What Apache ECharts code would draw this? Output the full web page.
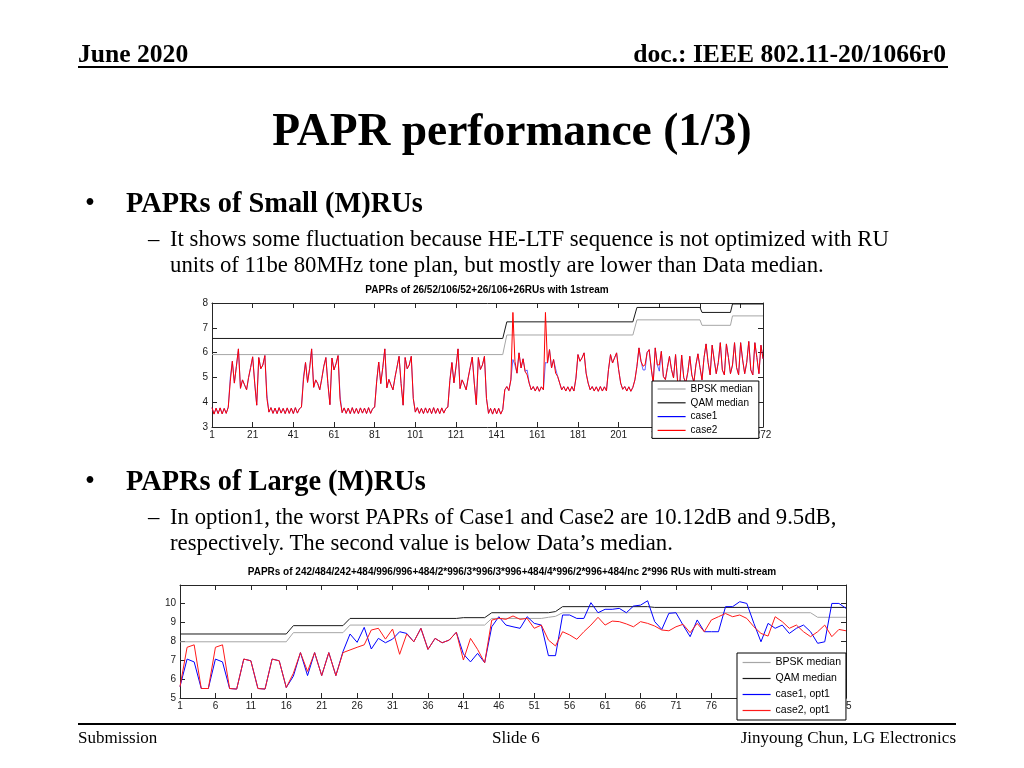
<!DOCTYPE html>
<html>
<head>
<meta charset="utf-8">
<script src="https://cdn.jsdelivr.net/npm/echarts@6.0.0/dist/echarts.min.js"></script>
<style>
  html, body { margin:0; padding:0; background:#fff; }
  body { width:1024px; height:768px; position:relative; overflow:hidden; font-family:"Liberation Serif", "Times New Roman", serif; color:#000; }
  #chart { position:absolute; left:0; top:0; width:1024px; height:768px; }
  .t { position:absolute; white-space:nowrap; line-height:1; }
  .rule { position:absolute; background:#000; }
</style>
</head>
<body>
<div id="chart"></div>

<div class="t" style="left:78px; top:40.6px; font-size:25.6px; font-weight:bold;">June 2020</div>
<div class="t" style="right:78px; top:40.6px; font-size:25.6px; font-weight:bold;">doc.: IEEE 802.11-20/1066r0</div>
<div class="rule" style="left:78px; top:66px; width:870px; height:2px;"></div>

<div class="t" style="left:0; width:1024px; text-align:center; top:107px; font-size:45.5px; font-weight:bold;">PAPR performance (1/3)</div>

<div class="t" style="left:85px; top:189px; font-size:28.4px;">•</div>
<div class="t" style="left:126px; top:189px; font-size:28.4px; font-weight:bold;">PAPRs of Small (M)RUs</div>
<div class="t" style="left:148px; top:228px; font-size:22.75px;">–</div>
<div class="t" style="left:170px; top:228px; font-size:22.75px;">It shows some fluctuation because HE-LTF sequence is not optimized with RU</div>
<div class="t" style="left:170px; top:254px; font-size:22.75px;">units of 11be 80MHz tone plan, but mostly are lower than Data median.</div>

<div class="t" style="left:85px; top:467px; font-size:28.4px;">•</div>
<div class="t" style="left:126px; top:467px; font-size:28.4px; font-weight:bold;">PAPRs of Large (M)RUs</div>
<div class="t" style="left:148px; top:506px; font-size:22.75px;">–</div>
<div class="t" style="left:170px; top:506px; font-size:22.75px;">In option1, the worst PAPRs of Case1 and Case2 are 10.12dB and 9.5dB,</div>
<div class="t" style="left:170px; top:532px; font-size:22.75px;">respectively. The second value is below Data’s median.</div>

<div class="rule" style="left:78px; top:723px; width:878px; height:1.5px;"></div>
<div class="t" style="left:78px; top:728.8px; font-size:17px;">Submission</div>
<div class="t" style="left:492px; top:728.8px; font-size:17px;">Slide 6</div>
<div class="t" style="right:68px; top:728.8px; font-size:17px;">Jinyoung Chun, LG Electronics</div>

<script>
// ---------------- DATA ----------------
// Top chart: PAPRs of 26/52/106/52+26/106+26RUs with 1stream (RU index 1..272)
const topTitle = 'PAPRs of 26/52/106/52+26/106+26RUs with 1stream';
const topXTicks = [1,21,41,61,81,101,121,141,161,181,201,221,241,261,272];
const topYTicks = [3,4,5,6,7,8];

const topCase2 = [
  3.78,3.52,3.76,3.54,3.77,3.53,3.75,3.55,3.8,
  4.85,5.65,4.77,5.45,6.15,4.56,4.9,4.7,4.5,5.0,5.4,5.83,4.77,3.88,5.8,5.35,5.5,5.88,4.15,
  3.6,3.78,3.55,3.76,3.54,3.78,3.56,3.75,3.54,3.77,3.55,3.76,3.54,3.78,3.56,3.74,3.8,
  4.9,5.6,4.8,5.35,6.15,4.6,4.9,4.75,4.5,4.95,5.45,5.8,4.75,3.9,5.78,5.3,5.55,5.88,4.1,
  3.58,3.77,3.55,3.76,3.54,3.78,3.55,3.75,3.54,3.77,3.56,3.76,3.54,3.78,3.55,3.74,3.8,
  4.85,5.62,4.75,5.4,6.15,4.58,4.92,4.7,4.5,5.0,5.42,5.85,4.75,3.88,5.8,5.35,5.5,5.85,4.15,
  3.6,3.78,3.55,3.75,3.54,3.77,3.56,3.76,3.54,3.78,3.55,3.75,3.54,3.77,3.56,3.74,3.8,
  4.88,5.6,4.78,5.42,6.15,4.55,4.9,4.72,4.5,4.98,5.4,5.82,4.77,3.9,5.8,5.32,5.5,5.85,4.15,
  3.55,3.75,3.52,3.76,3.53,3.75,3.52,3.7,
  4.5,4.63,4.47,4.9,7.62,5.65,5.17,5.99,5.38,5.75,5.24,5.1,4.77,4.5,
  4.63,4.45,4.63,4.44,4.62,4.5,
  7.62,5.58,6.12,5.38,5.72,5.17,5.04,4.77,4.5,
  4.63,4.45,4.62,4.44,4.63,4.45,
  4.97,5.92,5.65,5.79,5.99,5.17,4.77,4.5,
  4.63,4.45,4.62,4.44,4.63,4.45,4.62,4.46,
  5.31,5.92,5.58,5.79,5.99,5.31,4.77,4.52,
  4.63,4.45,4.62,4.44,4.6,
  4.9,5.45,6.19,5.65,5.45,5.51,6.0,6.12,5.38,4.77,6.19,5.51,5.5,6.05,5.04,4.91,
  5.4,5.85,5.31,4.98,5.92,4.84,4.64,5.9,5.0,4.77,5.2,5.85,5.1,4.8,5.5,5.95,
  5.4,4.9,5.8,6.35,5.6,5.1,6.3,5.7,5.15,5.6,6.4,5.3,5.1,6.35,5.8,5.15,
  5.5,6.4,5.4,5.1,6.4,5.7,5.15,5.6,6.45,5.3,5.1,6.4,5.8,5.15,6.3,5.75
];

const topCase1 = [
  3.78,3.52,3.76,3.54,3.77,3.53,3.75,3.55,3.8,
  5.0,5.65,4.77,5.45,6.15,4.56,4.9,4.7,4.5,5.0,5.4,5.83,4.77,3.88,5.8,5.35,5.5,5.88,4.3,
  3.6,3.78,3.55,3.76,3.54,3.78,3.56,3.75,3.54,3.77,3.55,3.76,3.54,3.78,3.56,3.74,3.8,
  5.05,5.6,4.8,5.35,6.15,4.6,4.9,4.75,4.5,4.95,5.45,5.8,4.75,3.9,5.78,5.3,5.55,5.88,4.25,
  3.58,3.77,3.55,3.76,3.54,3.78,3.55,3.75,3.54,3.77,3.56,3.76,3.54,3.78,3.55,3.74,3.8,
  4.85,5.62,4.75,5.4,6.15,4.58,4.92,4.7,4.5,5.0,5.42,5.85,4.75,3.88,5.8,5.35,5.5,5.85,4.15,
  3.6,3.78,3.55,3.75,3.54,3.77,3.56,3.76,3.54,3.78,3.55,3.75,3.54,3.77,3.56,3.74,3.8,
  4.88,5.6,4.78,5.42,6.15,4.55,4.9,4.72,4.5,4.98,5.4,5.82,4.77,3.9,5.8,5.32,5.5,5.85,4.15,
  3.55,3.75,3.52,3.76,3.53,3.75,3.52,3.7,
  4.5,4.63,4.47,4.9,5.72,5.5,5.17,5.99,5.38,5.75,5.24,5.3,4.77,4.5,
  4.63,4.45,4.63,4.44,4.62,4.5,
  5.6,5.58,6.12,5.38,5.72,5.35,5.04,4.77,4.5,
  4.63,4.45,4.62,4.44,4.63,4.45,
  4.97,5.92,5.65,5.79,5.99,5.17,4.77,4.5,
  4.63,4.45,4.62,4.44,4.63,4.45,4.62,4.46,
  5.31,5.92,5.58,5.79,5.99,5.31,4.77,4.52,
  4.63,4.45,4.62,4.44,4.6,
  4.9,5.45,6.19,5.65,5.3,5.3,6.0,6.12,5.38,4.77,6.19,5.51,5.25,6.05,5.04,4.91,
  5.4,5.85,5.31,4.98,5.92,4.84,4.64,5.9,5.0,4.77,5.2,5.85,5.1,4.8,5.5,5.95,
  5.4,4.9,5.8,6.35,5.6,5.1,6.3,5.7,5.15,5.6,6.4,5.3,5.1,6.35,5.8,5.15,
  5.5,6.4,5.4,5.1,6.4,5.7,5.15,5.6,6.45,5.3,5.1,6.4,5.8,5.15,6.3,5.75
];

// step lines: [RU index, value]
const topBpsk = [[1,5.92],[144,5.92],[146,6.71],[208,6.71],[210,7.32],[241,7.32],[242,7.1],[256,7.1],[257,7.48],[272,7.48]];
const topQam  = [[1,6.57],[144,6.57],[146,7.24],[208,7.24],[210,7.82],[241,7.82],[242,7.62],[256,7.62],[257,7.96],[272,7.96]];
const topLegend = ['BPSK median','QAM median','case1','case2'];

// Bottom chart: large (M)RUs with multi-stream (index 1..95)
const botTitle = 'PAPRs of 242/484/242+484/996/996+484/2*996/3*996/3*996+484/4*996/2*996+484/nc 2*996 RUs with multi-stream';
const botXTicks = [1,6,11,16,21,26,31,36,41,46,51,56,61,66,71,76,81,86,91,95];
const botYTicks = [5,6,7,8,9,10];

const botCase1 = [
  5.6,7.05,6.9,5.5,5.5,7.05,6.9,5.5,5.47,7.05,
  6.96,5.5,5.47,7.05,6.96,5.55,6.15,7.39,6.18,7.39,
  6.18,7.39,6.18,7.44,8.37,7.93,8.72,7.58,8.14,7.91,
  8.1,8.49,8.4,7.96,8.67,7.56,8.14,7.91,8.05,8.46,
  7.32,6.9,7.35,6.86,8.75,9.28,8.84,8.75,8.67,9.28,
  8.93,8.84,7.23,7.23,9.37,9.37,9.19,9.19,10.02,9.49,
  9.67,9.67,9.72,9.49,9.84,9.89,10.12,9.02,8.61,9.46,
  9.49,8.84,8.23,9.11,8.49,8.49,8.49,9.81,9.81,10.07,
  9.98,8.93,7.96,8.93,8.67,8.84,8.4,8.67,8.84,8.49,
  7.88,7.96,9.98,9.98,9.72
];
const botCase2 = [
  5.6,7.67,7.8,5.5,5.5,7.67,7.8,5.5,5.47,7.05,
  6.96,5.5,5.47,7.05,6.96,5.55,6.3,7.39,6.4,7.39,
  6.18,7.39,6.18,7.39,7.53,7.67,7.8,8.58,8.67,8.1,
  8.63,7.3,8.37,7.96,8.67,7.56,8.14,7.91,8.05,8.46,
  7.0,8.14,7.56,6.86,9.1,9.2,9.14,9.32,9.14,9.19,
  8.67,8.84,8.05,7.74,8.49,8.32,8.09,8.49,8.84,9.25,
  8.84,9.05,9.02,8.9,8.75,9.02,8.93,8.79,8.58,8.54,
  8.75,8.88,8.44,8.93,8.49,9.11,9.28,9.45,9.28,9.37,
  9.19,8.75,8.4,8.26,9.28,9.02,8.67,8.84,8.49,8.23,
  8.49,8.84,8.23,8.61,8.54
];
const botBpsk = [[1,7.96],[16,7.96],[17,8.44],[24,8.44],[25,8.84],[44,8.84],[45,9.19],[52,9.19],[53,9.25],[54,9.3],[55,9.49],[90,9.49],[91,9.25],[95,9.25]];
const botQam  = [[1,8.37],[16,8.37],[17,8.81],[24,8.81],[25,9.19],[40,9.19],[41,9.23],[44,9.23],[45,9.49],[53,9.49],[54,9.55],[55,9.81],[67,9.81],[68,9.77],[95,9.77]];
const botLegend = ['BPSK median','QAM median','case1, opt1','case2, opt1'];

// ---------------- CHART ----------------
const AX = '#262626';
const FONT = 'Liberation Sans';
const toXY = arr => arr.map((v, k) => [k + 1, v]);

function xAxis(grid, pos, min, max, ticks, showLabel) {
  return {
    type: 'value', gridIndex: grid, position: pos, min: min, max: max,
    axisLine: { show: true, onZero: false, lineStyle: { color: AX, width: 1 } },
    axisTick: { show: true, inside: true, length: 5, customValues: ticks, lineStyle: { color: AX, width: 1 } },
    axisLabel: { show: showLabel, customValues: ticks, margin: 3, fontSize: 10, color: '#1a1a1a', fontFamily: FONT },
    splitLine: { show: false }
  };
}
function yAxis(grid, pos, min, max, ticks, showLabel) {
  return {
    type: 'value', gridIndex: grid, position: pos, min: min, max: max,
    axisLine: { show: true, onZero: false, lineStyle: { color: AX, width: 1 } },
    axisTick: { show: true, inside: true, length: 5, customValues: ticks, lineStyle: { color: AX, width: 1 } },
    axisLabel: { show: showLabel, customValues: ticks, margin: 4, fontSize: 10, color: '#1a1a1a', fontFamily: FONT },
    splitLine: { show: false }
  };
}
function line(name, data, xi, yi, color, z, w) {
  return {
    type: 'line', name: name, data: data, xAxisIndex: xi, yAxisIndex: yi,
    symbol: 'none', showSymbol: false, z: z,
    lineStyle: { color: color, width: w }, itemStyle: { color: color },
    emphasis: { disabled: true }
  };
}
function legendBox(names, left, top, gap, pad, fs) {
  return {
    data: names, orient: 'vertical', left: left, top: top,
    itemWidth: 28, itemHeight: 10, itemGap: gap, padding: pad,
    backgroundColor: '#fff', borderColor: '#000', borderWidth: 1, borderRadius: 0,
    selectedMode: false, z: 10,
    itemStyle: { opacity: 0 },
    lineStyle: { width: 1.2 },
    textStyle: { fontSize: fs, color: '#000', fontFamily: FONT }
  };
}

const chart = echarts.init(document.getElementById('chart'), null, { renderer: 'canvas' });
chart.setOption({
  animation: false,
  backgroundColor: 'transparent',
  grid: [
    { left: 212, top: 303, width: 551, height: 124 },
    { left: 180, top: 585, width: 666, height: 113 }
  ],
  xAxis: [
    xAxis(0, 'bottom', 1, 272, topXTicks, true),
    xAxis(0, 'top', 1, 272, topXTicks, false),
    xAxis(1, 'bottom', 1, 95, botXTicks, true),
    xAxis(1, 'top', 1, 95, botXTicks, false)
  ],
  yAxis: [
    yAxis(0, 'left', 3, 8, topYTicks, true),
    yAxis(0, 'right', 3, 8, topYTicks, false),
    yAxis(1, 'left', 5, 10.95, botYTicks, true),
    yAxis(1, 'right', 5, 10.95, botYTicks, false)
  ],
  legend: [
    legendBox(topLegend, 652, 381, 3.8, [3, 6, 3, 5], 10),
    legendBox(botLegend, 737, 653, 5, [4, 5, 4, 5], 10.5)
  ],
  graphic: [
    { type: 'text', x: 487, y: 290, z: 10,
      style: { text: topTitle, font: 'bold 10px "Liberation Sans"', fill: '#000', align: 'center', verticalAlign: 'middle' } },
    { type: 'text', x: 512, y: 572.5, z: 10,
      style: { text: botTitle, font: 'bold 10px "Liberation Sans"', fill: '#000', align: 'center', verticalAlign: 'middle' } }
  ],
  series: [
    line(topLegend[0], topBpsk, 0, 0, '#a6a6a6', 2, 1),
    line(topLegend[1], topQam, 0, 0, '#1a1a1a', 2, 1),
    line(topLegend[2], toXY(topCase1), 0, 0, '#0000ff', 3, 0.6),
    line(topLegend[3], toXY(topCase2), 0, 0, '#ff0000', 4, 1),
    line(botLegend[0], botBpsk, 2, 2, '#a6a6a6', 2, 1),
    line(botLegend[1], botQam, 2, 2, '#1a1a1a', 2, 1),
    line(botLegend[2], toXY(botCase1), 2, 2, '#0000ff', 3, 1),
    line(botLegend[3], toXY(botCase2), 2, 2, '#ff1a1a', 4, 1)
  ]
});
</script>
</body>
</html>
